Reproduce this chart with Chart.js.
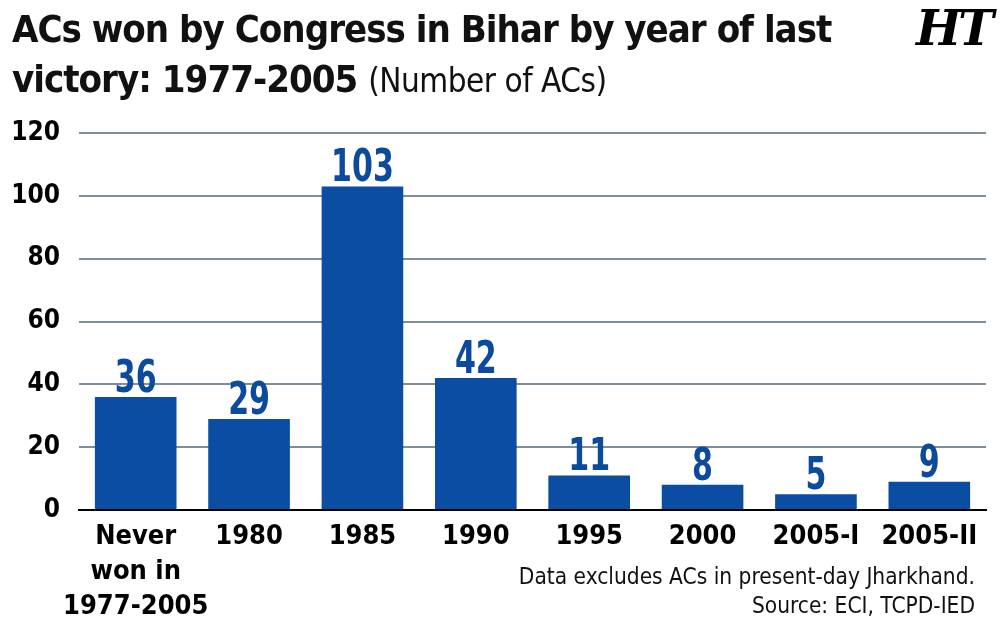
<!DOCTYPE html>
<html>
<head>
<meta charset="utf-8">
<script src="https://cdn.jsdelivr.net/npm/chart.js@4.4.1/dist/chart.umd.min.js"></script>
<style>
  html, body { margin: 0; padding: 0; background: #fff; }
  #wrap { position: relative; width: 1000px; height: 635px; overflow: hidden; font-family: 'Liberation Sans Narrow', 'DejaVu Sans Condensed', sans-serif; }
  #chartBox { position: absolute; left: 0; top: 0; width: 1000px; height: 635px; }
  .title { position: absolute; left: 12px; color: #111; font-weight: bold; font-size: 38px; white-space: nowrap; letter-spacing: -1px; }
  .title .sub { font-weight: normal; font-size: 33px; letter-spacing: -0.5px; }
  #t1 { top: 7px; }
  #t2 { top: 57px; }
  #logo { position: absolute; left: 916px; top: 0px; font-family: 'DejaVu Serif', 'Liberation Serif', serif; font-weight: bold; font-style: italic; font-size: 48px; color: #000; letter-spacing: -3px; }
  .note { position: absolute; right: 25px; font-size: 22.5px; color: #111; white-space: nowrap; }
  #n1 { top: 563px; }
  #n2 { top: 592px; }
</style>
</head>
<body>
<div id="wrap">
  <div id="chartBox"><canvas id="c"></canvas></div>
  <div class="title" id="t1">ACs won by Congress in Bihar by year of last</div>
  <div class="title" id="t2">victory: 1977-2005 <span class="sub">(Number of ACs)</span></div>
  <div id="logo">HT</div>
  <div class="note" id="n1">Data excludes ACs in present-day Jharkhand.</div>
  <div class="note" id="n2">Source: ECI, TCPD-IED</div>
</div>
<script>
const categories = [["Never", "won in", "1977-2005"], "1980", "1985", "1990", "1995", "2000", "2005-I", "2005-II"];
const acsWon = [36, 29, 103, 42, 11, 8, 5, 9];
const yTicks = [0, 20, 40, 60, 80, 100, 120];

const FONT = "'Liberation Sans Narrow', 'DejaVu Sans Condensed', sans-serif";
const BAR = '#0a4da2';

const valueLabels = {
  id: 'valueLabels',
  afterDatasetsDraw(chart) {
    const ctx = chart.ctx;
    const meta = chart.getDatasetMeta(0);
    const sx = 0.76;
    ctx.save();
    ctx.fillStyle = '#0b4a9c';
    ctx.font = 'bold 44px ' + FONT;
    ctx.textAlign = 'center';
    ctx.textBaseline = 'alphabetic';
    meta.data.forEach((bar, i) => {
      ctx.save();
      ctx.translate(bar.x, bar.y - 5);
      ctx.scale(sx, 1);
      ctx.fillText(String(chart.data.datasets[0].data[i]), 0, 0);
      ctx.restore();
    });
    ctx.restore();
  }
};

new Chart(document.getElementById('c'), {
  type: 'bar',
  data: {
    labels: categories,
    datasets: [{
      data: acsWon,
      backgroundColor: BAR,
      borderWidth: 0,
      barPercentage: 0.72,
      categoryPercentage: 1.0
    }]
  },
  options: {
    responsive: true,
    maintainAspectRatio: false,
    animation: false,
    layout: { padding: { top: 133, right: 14, bottom: 0, left: 0 } },
    plugins: { legend: { display: false }, tooltip: { enabled: false }, title: { display: false } },
    scales: {
      x: {
        grid: { display: false, drawTicks: false },
        border: { display: true, color: '#000', width: 2 },
        ticks: { color: '#000', font: { family: FONT, size: 27, weight: 'bold', lineHeight: 1.3 }, padding: 9, maxRotation: 0, autoSkip: false },
        afterFit(scale) { scale.height = 125; }
      },
      y: {
        min: 0, max: 120,
        afterBuildTicks(scale) { scale.ticks = yTicks.map(v => ({ value: v })); },
        grid: { color: '#7f8e9b', lineWidth: 2, drawTicks: false },
        border: { display: false },
        ticks: { color: '#000', font: { family: FONT, size: 26, weight: 'bold' }, padding: 19 },
        afterFit(scale) { scale.width = 79; }
      }
    }
  },
  plugins: [valueLabels]
});
</script>
</body>
</html>
